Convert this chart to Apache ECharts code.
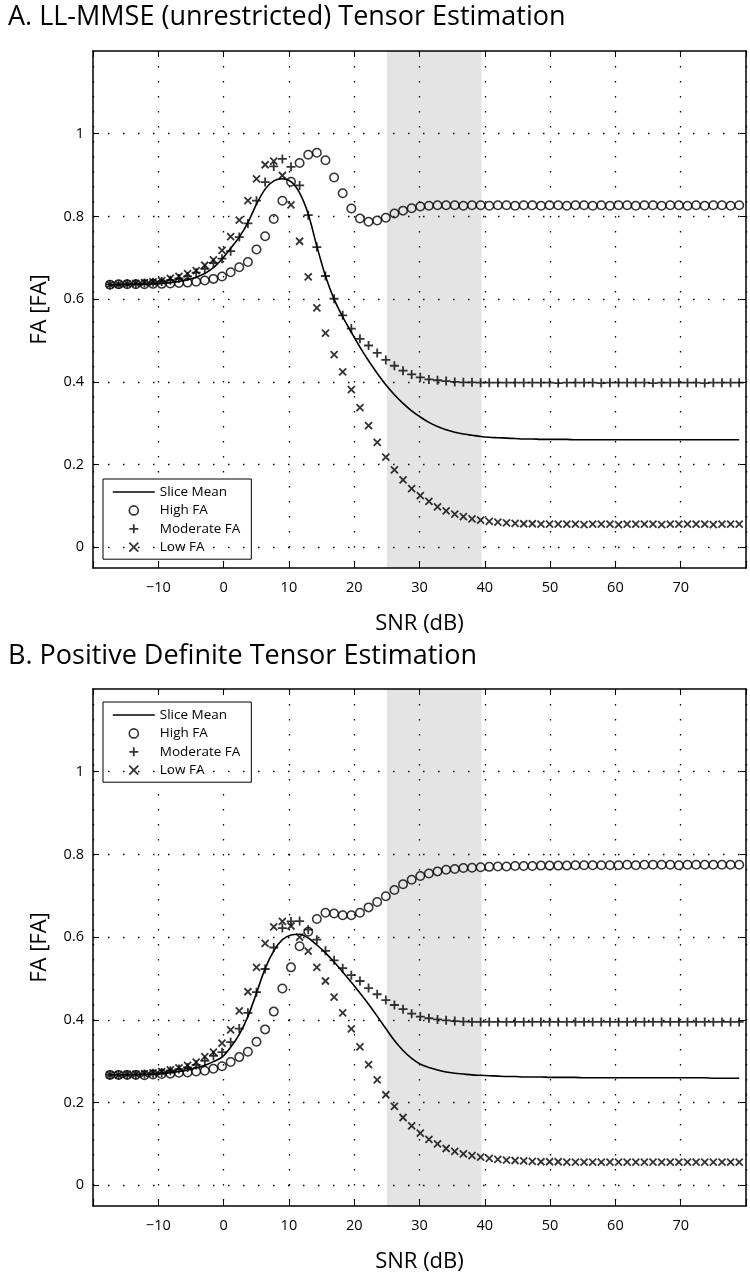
<!DOCTYPE html>
<html>
<head>
<meta charset="utf-8">
<script src="https://cdn.jsdelivr.net/npm/echarts@6/dist/echarts.min.js"></script>
<style>
  html, body { margin: 0; padding: 0; background: #fff; }
  #chart { width: 750px; height: 1288px; }
</style>
</head>
<body>
<div id="chart"></div>
<script>
// ---- data ----
const SNR = [-17.4, -16.08, -14.76, -13.44, -12.12, -10.8, -9.48, -8.16, -6.84, -5.52,
  -4.2, -2.88, -1.56, -0.24, 1.08, 2.4, 3.72, 5.04, 6.36, 7.68,
  9.0, 10.32, 11.64, 12.96, 14.28, 15.6, 16.92, 18.24, 19.56, 20.88,
  22.2, 23.52, 24.84, 26.16, 27.48, 28.8, 30.12, 31.44, 32.76, 34.08,
  35.4, 36.72, 38.04, 39.36, 40.68, 42.0, 43.32, 44.64, 45.96, 47.28,
  48.6, 49.92, 51.24, 52.56, 53.88, 55.2, 56.52, 57.84, 59.16, 60.48,
  61.8, 63.12, 64.44, 65.76, 67.08, 68.4, 69.72, 71.04, 72.36, 73.68,
  75.0, 76.32, 77.64, 78.96];

// Panel A: LL-MMSE (unrestricted)
const A_mean = [0.634, 0.635, 0.635, 0.636, 0.636, 0.637, 0.638, 0.640, 0.643, 0.647,
  0.653, 0.662, 0.676, 0.697, 0.723, 0.750, 0.785, 0.830, 0.866, 0.886,
  0.891, 0.884, 0.857, 0.806, 0.728, 0.656, 0.600, 0.557, 0.520, 0.484,
  0.451, 0.421, 0.393, 0.369, 0.348, 0.330, 0.315, 0.302, 0.292, 0.284,
  0.278, 0.274, 0.271, 0.268, 0.266, 0.265, 0.264, 0.263, 0.262, 0.262,
  0.261, 0.261, 0.261, 0.261, 0.260, 0.260, 0.260, 0.260, 0.260, 0.260,
  0.260, 0.260, 0.260, 0.260, 0.260, 0.260, 0.260, 0.260, 0.260, 0.260,
  0.260, 0.260, 0.260, 0.260];
const A_high = [0.635, 0.636, 0.636, 0.636, 0.636, 0.637, 0.637, 0.638, 0.639, 0.640,
  0.642, 0.645, 0.649, 0.655, 0.665, 0.677, 0.690, 0.720, 0.752, 0.794,
  0.838, 0.884, 0.929, 0.949, 0.954, 0.936, 0.894, 0.856, 0.819, 0.795,
  0.787, 0.790, 0.797, 0.807, 0.814, 0.820, 0.824, 0.826, 0.827, 0.827,
  0.827, 0.826, 0.827, 0.827, 0.826, 0.827, 0.827, 0.826, 0.827, 0.827,
  0.826, 0.827, 0.827, 0.826, 0.827, 0.827, 0.826, 0.827, 0.826, 0.827,
  0.827, 0.826, 0.827, 0.827, 0.826, 0.827, 0.827, 0.826, 0.827, 0.826,
  0.827, 0.827, 0.826, 0.827];
const A_moderate = [0.635, 0.636, 0.637, 0.638, 0.639, 0.641, 0.643, 0.646, 0.650, 0.655,
  0.664, 0.673, 0.687, 0.698, 0.716, 0.750, 0.783, 0.838, 0.883, 0.921,
  0.939, 0.920, 0.875, 0.803, 0.726, 0.656, 0.601, 0.561, 0.529, 0.504,
  0.488, 0.470, 0.453, 0.439, 0.427, 0.418, 0.411, 0.406, 0.404, 0.402,
  0.400, 0.399, 0.399, 0.398, 0.398, 0.398, 0.398, 0.398, 0.398, 0.398,
  0.398, 0.398, 0.397, 0.398, 0.398, 0.398, 0.398, 0.397, 0.398, 0.398,
  0.398, 0.398, 0.398, 0.397, 0.398, 0.398, 0.398, 0.398, 0.398, 0.397,
  0.398, 0.398, 0.398, 0.398];
const A_low = [0.635, 0.636, 0.637, 0.638, 0.640, 0.642, 0.645, 0.650, 0.655, 0.662,
  0.669, 0.682, 0.695, 0.718, 0.751, 0.791, 0.838, 0.891, 0.925, 0.934,
  0.899, 0.828, 0.740, 0.654, 0.579, 0.518, 0.466, 0.424, 0.381, 0.338,
  0.294, 0.254, 0.218, 0.187, 0.163, 0.142, 0.125, 0.111, 0.098, 0.088,
  0.080, 0.074, 0.069, 0.066, 0.063, 0.061, 0.059, 0.058, 0.057, 0.057,
  0.056, 0.056, 0.056, 0.056, 0.056, 0.055, 0.056, 0.056, 0.056, 0.055,
  0.056, 0.056, 0.056, 0.056, 0.055, 0.056, 0.056, 0.056, 0.056, 0.056,
  0.055, 0.056, 0.056, 0.056];

// Panel B: Positive Definite
const B_mean = [0.267, 0.267, 0.267, 0.268, 0.268, 0.269, 0.270, 0.272, 0.275, 0.279,
  0.284, 0.290, 0.299, 0.310, 0.334, 0.365, 0.408, 0.465, 0.524, 0.567,
  0.594, 0.605, 0.607, 0.598, 0.581, 0.562, 0.540, 0.516, 0.491, 0.465,
  0.438, 0.409, 0.379, 0.350, 0.326, 0.307, 0.293, 0.285, 0.279, 0.274,
  0.271, 0.269, 0.267, 0.266, 0.265, 0.264, 0.263, 0.263, 0.262, 0.262,
  0.262, 0.261, 0.261, 0.261, 0.261, 0.260, 0.260, 0.260, 0.260, 0.260,
  0.260, 0.260, 0.260, 0.260, 0.260, 0.260, 0.260, 0.260, 0.260, 0.260,
  0.259, 0.259, 0.259, 0.259];
const B_high = [0.267, 0.267, 0.267, 0.267, 0.266, 0.268, 0.269, 0.270, 0.272, 0.273,
  0.275, 0.277, 0.282, 0.288, 0.298, 0.310, 0.323, 0.347, 0.377, 0.420,
  0.476, 0.527, 0.578, 0.613, 0.644, 0.659, 0.657, 0.653, 0.653, 0.659,
  0.672, 0.685, 0.699, 0.714, 0.728, 0.739, 0.748, 0.754, 0.759, 0.763,
  0.765, 0.767, 0.768, 0.769, 0.770, 0.771, 0.771, 0.772, 0.772, 0.772,
  0.773, 0.773, 0.773, 0.773, 0.774, 0.774, 0.774, 0.774, 0.774, 0.774,
  0.775, 0.774, 0.775, 0.775, 0.775, 0.775, 0.774, 0.775, 0.775, 0.775,
  0.775, 0.775, 0.775, 0.775];
const B_moderate = [0.267, 0.267, 0.268, 0.268, 0.269, 0.271, 0.273, 0.277, 0.281, 0.285,
  0.291, 0.301, 0.313, 0.322, 0.346, 0.379, 0.417, 0.467, 0.523, 0.575,
  0.622, 0.638, 0.639, 0.618, 0.594, 0.567, 0.544, 0.525, 0.508, 0.494,
  0.477, 0.462, 0.448, 0.436, 0.426, 0.415, 0.408, 0.404, 0.401, 0.399,
  0.397, 0.396, 0.395, 0.395, 0.395, 0.395, 0.395, 0.395, 0.395, 0.395,
  0.395, 0.395, 0.395, 0.395, 0.395, 0.395, 0.395, 0.395, 0.395, 0.395,
  0.395, 0.395, 0.395, 0.395, 0.395, 0.395, 0.395, 0.395, 0.395, 0.395,
  0.395, 0.395, 0.395, 0.395];
const B_low = [0.267, 0.267, 0.268, 0.269, 0.270, 0.272, 0.275, 0.279, 0.284, 0.290,
  0.298, 0.311, 0.322, 0.344, 0.376, 0.422, 0.468, 0.527, 0.585, 0.625,
  0.638, 0.627, 0.600, 0.566, 0.527, 0.494, 0.455, 0.417, 0.378, 0.335,
  0.292, 0.255, 0.219, 0.191, 0.164, 0.144, 0.126, 0.111, 0.100, 0.089,
  0.082, 0.076, 0.072, 0.068, 0.065, 0.063, 0.061, 0.060, 0.059, 0.058,
  0.057, 0.057, 0.057, 0.056, 0.056, 0.056, 0.056, 0.056, 0.056, 0.056,
  0.056, 0.056, 0.056, 0.056, 0.056, 0.056, 0.056, 0.056, 0.056, 0.056,
  0.056, 0.056, 0.056, 0.056];

const yTicks = [0, 0.2, 0.4, 0.6, 0.8, 1];
const xHiddenLabels = [-20, 80];
const bandRange = [25, 39.5];
const seriesNames = ['Slice Mean', 'High FA', 'Moderate FA', 'Low FA'];
const titles = ['A. LL-MMSE (unrestricted) Tensor Estimation', 'B. Positive Definite Tensor Estimation'];

// ---- chart ----
const FONT = 'Open Sans';
const PLUS = 'path://M0,5L10,5M5,0L5,10';
const CROSS = 'path://M0,0L10,10M10,0L0,10';
const gridTops = [51, 689];
const gridH = 517;

const zip = (xs, ys) => xs.map((x, i) => [x, ys[i]]);
const panels = [
  { mean: A_mean, high: A_high, mod: A_moderate, low: A_low },
  { mean: B_mean, high: B_high, mod: B_moderate, low: B_low }
];

const grids = [], xAxes = [], yAxes = [], series = [];
const axisLineStyle = { color: '#000', width: 1.5 };
const dotStyle = { color: '#000', width: 1.3, type: [1.5, 13.5] };

panels.forEach((p, k) => {
  grids.push({ left: 93, top: gridTops[k], width: 653, height: gridH });
  xAxes.push({
    type: 'value', gridIndex: k, position: 'bottom', min: -20, max: 80, interval: 10,
    axisLine: { show: true, onZero: false, lineStyle: axisLineStyle },
    axisTick: { show: true, inside: true, length: 6, lineStyle: { color: '#000', width: 1 } },
    axisLabel: {
      margin: 12, color: '#000', fontFamily: FONT, fontSize: 14.5,
      formatter: v => xHiddenLabels.includes(v) ? '' : String(v).replace('-', '\u2212')
    },
    splitLine: { show: true, lineStyle: dotStyle },
    name: 'SNR (dB)', nameLocation: 'middle', nameGap: 45,
    nameTextStyle: { color: '#000', fontFamily: FONT, fontSize: 22 }
  });
  xAxes.push({
    type: 'value', gridIndex: k, position: 'top', min: -20, max: 80, interval: 10,
    axisLine: { show: true, onZero: false, lineStyle: axisLineStyle },
    axisTick: { show: true, inside: true, length: 6, lineStyle: { color: '#000', width: 1 } },
    axisLabel: { show: false }, splitLine: { show: false }
  });
  yAxes.push({
    type: 'value', gridIndex: k, position: 'left', min: -0.05, max: 1.2,
    axisLine: { show: true, onZero: false, lineStyle: axisLineStyle },
    axisTick: { show: true, inside: true, length: 6, customValues: yTicks, lineStyle: { color: '#000', width: 1 } },
    axisLabel: { customValues: yTicks, margin: 9, color: '#000', fontFamily: FONT, fontSize: 14.5 },
    splitLine: { show: false },
    name: 'FA [FA]', nameLocation: 'middle', nameGap: 42,
    nameTextStyle: { color: '#000', fontFamily: FONT, fontSize: 22 }
  });
  yAxes.push({
    type: 'value', gridIndex: k, position: 'right', min: -0.05, max: 1.2,
    axisLine: { show: true, onZero: false, lineStyle: axisLineStyle },
    axisTick: { show: true, inside: true, length: 6, customValues: yTicks, lineStyle: { color: '#000', width: 1 } },
    axisLabel: { show: false, customValues: yTicks }, splitLine: { show: false }
  });

  const xi = 2 * k, yi = 2 * k;
  series.push({
    name: seriesNames[0], type: 'line', xAxisIndex: xi, yAxisIndex: yi,
    data: zip(SNR, p.mean), symbol: 'none', showSymbol: false, smooth: 0.3,
    lineStyle: { color: '#000', width: 1.6 }, itemStyle: { color: '#000' },
    silent: true, z: 3,
    markArea: {
      silent: true,
      itemStyle: { color: 'rgba(0,0,0,0.105)' },
      data: [[{ xAxis: bandRange[0] }, { xAxis: bandRange[1] }]]
    },
    markLine: {
      silent: true, symbol: 'none', label: { show: false },
      lineStyle: dotStyle,
      data: yTicks.map(v => ({ yAxis: v }))
    }
  });
  series.push({
    name: seriesNames[1], type: 'scatter', xAxisIndex: xi, yAxisIndex: yi,
    data: zip(SNR, p.high), symbol: 'circle', symbolSize: 8.5, silent: true,
    itemStyle: { color: 'rgba(0,0,0,0)', borderColor: '#000', borderWidth: 1.5 }
  });
  series.push({
    name: seriesNames[2], type: 'scatter', xAxisIndex: xi, yAxisIndex: yi,
    data: zip(SNR, p.mod), symbol: PLUS, symbolSize: 9, silent: true,
    itemStyle: { color: '#000', borderColor: '#000', borderWidth: 1.8 }
  });
  series.push({
    name: seriesNames[3], type: 'scatter', xAxisIndex: xi, yAxisIndex: yi,
    data: zip(SNR, p.low), symbol: CROSS, symbolSize: 7, silent: true,
    itemStyle: { color: '#000', borderColor: '#000', borderWidth: 1.8 }
  });
});

const legendBase = {
  orient: 'vertical', left: 103, itemWidth: 42, itemHeight: 9, itemGap: 4.4,
  padding: [6, 11, 5, 9], backgroundColor: '#fff', borderColor: '#000', borderWidth: 1,
  borderRadius: 0, selectedMode: false,
  data: [
    { name: seriesNames[0], itemStyle: { opacity: 0, borderWidth: 0 } },
    { name: seriesNames[1], itemStyle: { borderWidth: 1.6 } },
    { name: seriesNames[2], itemStyle: { borderWidth: 1.8 } },
    { name: seriesNames[3], itemStyle: { borderWidth: 1.8 } }
  ],
  lineStyle: { width: 1.6 },
  textStyle: { color: '#000', fontFamily: FONT, fontSize: 13.5 }
};

const chart = echarts.init(document.getElementById('chart'), null, { renderer: 'canvas' });
chart.setOption({
  animation: false,
  backgroundColor: '#fff',
  title: titles.map((t, k) => ({
    text: t, left: 8, top: k === 0 ? 4 : 643, padding: 0,
    textStyle: { color: '#000', fontFamily: FONT, fontSize: 27, fontWeight: 'normal' }
  })),
  legend: [
    Object.assign({}, legendBase, { top: 479 }),
    Object.assign({}, legendBase, { top: 702 })
  ],
  grid: grids,
  xAxis: xAxes,
  yAxis: yAxes,
  series: series
});
</script>
</body>
</html>
